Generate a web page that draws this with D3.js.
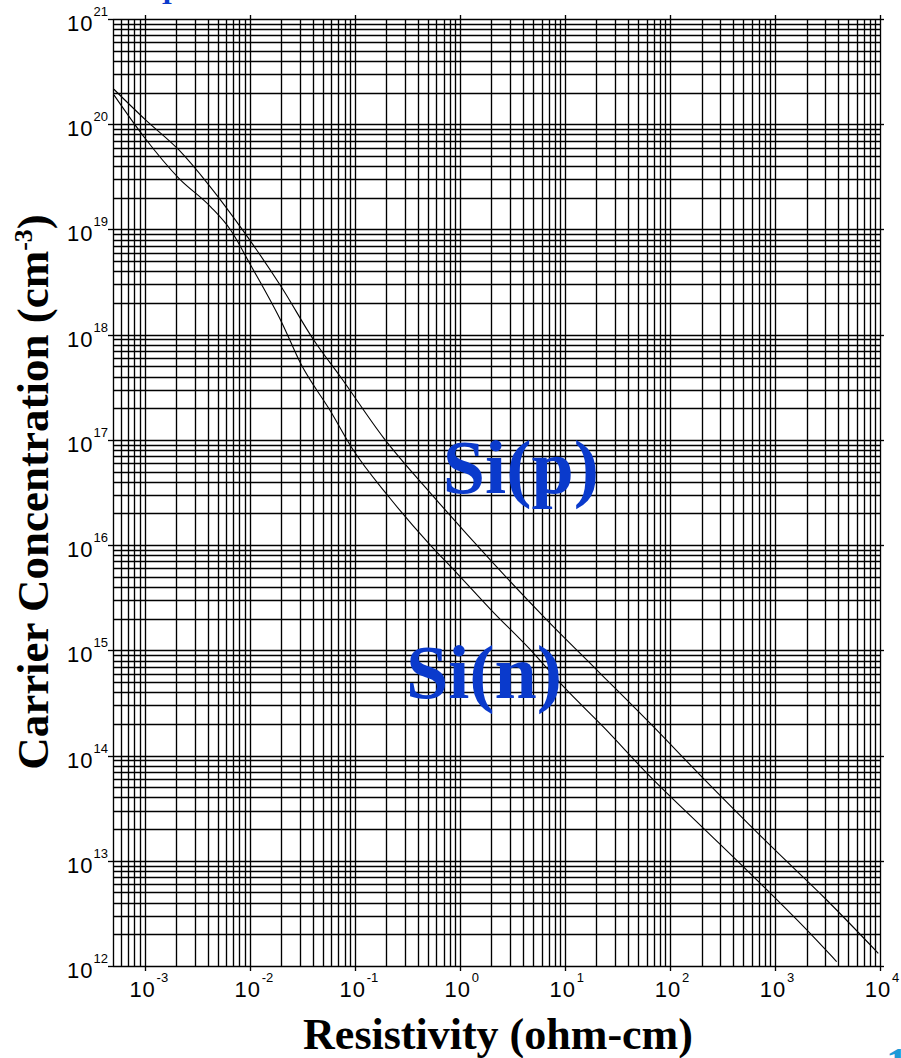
<!DOCTYPE html>
<html>
<head>
<meta charset="utf-8">
<script src="https://cdn.jsdelivr.net/npm/d3@7"></script>
<style>
  body { margin: 0; background: #fff; }
  svg { display: block; }
</style>
</head>
<body>
<svg id="chart" width="901" height="1058"></svg>
<script>
// axis ranges and tick exponents
const xDomain = [5e-4, 1e4]
const yDomain = [1e12, 1e21]
const xExponents = ['-3', '-2', '-1', '0', '1', '2', '3', '4']
const yExponents = ['12', '13', '14', '15', '16', '17', '18', '19', '20', '21']

// Si(p) curve
const siPRes  = [5.1e-4, 1.02e-3, 2.12e-3, 4.09e-3, 8.79e-3, 2.04e-2, 4.07e-2, 7.31e-2, 0.189, 0.565, 1.95, 6.76, 20.2, 65.0, 194, 966, 3110, 9640]
const siPConc = [2.15e20, 1.10e20, 5.69e19, 2.64e19, 9.53e18, 2.76e18, 8.89e17, 3.98e17, 1.04e17, 2.88e16, 7.23e15, 1.94e15, 6.50e14, 2.02e14, 6.53e13, 1.31e13, 4.24e12, 1.32e12]

// Si(n) curve
const siNRes  = [5.1e-4, 9.84e-4, 2.12e-3, 4.25e-3, 6.58e-3, 1.02e-2, 2.04e-2, 3.05e-2, 5.87e-2, 9.44e-2, 0.211, 0.506, 0.942, 1.95, 5.05, 9.73, 23.4, 65.0, 201, 579, 2010, 3870]
const siNConc = [1.90e20, 7.60e19, 3.06e19, 1.64e19, 9.89e18, 4.59e18, 1.28e18, 5.35e17, 1.88e17, 8.32e16, 2.88e16, 1.04e16, 5.40e15, 2.47e15, 9.38e14, 4.51e14, 1.86e14, 6.30e13, 2.11e13, 7.60e12, 2.20e12, 1.10e12]

const curveLabels = ['Si(p)', 'Si(n)']

const WIDTH = 901
const HEIGHT = 1058
const plotL = 113, plotR = 880, plotT = 19, plotB = 966

const svg = d3.select('#chart')

const x = d3.scaleLog().domain(xDomain).range([plotL, plotR])
const y = d3.scaleLog().domain(yDomain).range([plotB, plotT])

const crisp = v => Math.round(v) + 0.5

// grid
const grid = svg.append('g')
  .attr('stroke', '#000')
  .attr('stroke-width', 1.35)

grid.selectAll('line.vx')
  .data(x.ticks())
  .enter()
  .append('line')
  .attr('class', 'vx')
  .attr('x1', d => crisp(x(d)))
  .attr('x2', d => crisp(x(d)))
  .attr('y1', plotT)
  .attr('y2', plotB + 1)

grid.selectAll('line.hy')
  .data(y.ticks())
  .enter()
  .append('line')
  .attr('class', 'hy')
  .attr('y1', d => crisp(y(d)))
  .attr('y2', d => crisp(y(d)))
  .attr('x1', plotL)
  .attr('x2', plotR + 1)

// outward ticks at the decades
const xMajor = xExponents.map(e => Math.pow(10, +e))
const yMajor = yExponents.map(e => Math.pow(10, +e))

grid.selectAll('line.tb')
  .data(xMajor)
  .enter()
  .append('line')
  .attr('class', 'tb')
  .attr('x1', d => crisp(x(d)))
  .attr('x2', d => crisp(x(d)))
  .attr('y1', plotB)
  .attr('y2', plotB + 5)

grid.selectAll('line.tt')
  .data(xMajor)
  .enter()
  .append('line')
  .attr('class', 'tt')
  .attr('x1', d => crisp(x(d)))
  .attr('x2', d => crisp(x(d)))
  .attr('y1', plotT - 4)
  .attr('y2', plotT)

grid.selectAll('line.tl')
  .data(yMajor)
  .enter()
  .append('line')
  .attr('class', 'tl')
  .attr('y1', d => crisp(y(d)))
  .attr('y2', d => crisp(y(d)))
  .attr('x1', plotL - 5)
  .attr('x2', plotL)

grid.selectAll('line.tr')
  .data(yMajor)
  .enter()
  .append('line')
  .attr('class', 'tr')
  .attr('y1', d => crisp(y(d)))
  .attr('y2', d => crisp(y(d)))
  .attr('x1', plotR)
  .attr('x2', plotR + 4)

// tick labels
const tickFont = '"Liberation Sans", Arial, sans-serif'

const yl = svg.append('g')
  .attr('font-family', tickFont)
  .attr('fill', '#000')
  .selectAll('text')
  .data(yExponents)
  .enter()
  .append('text')
  .attr('x', plotL - 5)
  .attr('y', d => y(Math.pow(10, +d)) + 12)
  .attr('text-anchor', 'end')

yl.append('tspan').attr('font-size', 22).attr('letter-spacing', 1).text('10')
yl.append('tspan').attr('font-size', 13).attr('dy', -15).text(d => d)

const xl = svg.append('g')
  .attr('font-family', tickFont)
  .attr('fill', '#000')
  .selectAll('g')
  .data(xExponents)
  .enter()
  .append('g')

xl.append('text')
  .attr('x', d => x(Math.pow(10, +d)) - 2)
  .attr('y', plotB + 31)
  .attr('text-anchor', 'middle')
  .attr('font-size', 22)
  .attr('letter-spacing', 1)
  .text('10')

xl.append('text')
  .attr('x', d => x(Math.pow(10, +d)) + 12)
  .attr('y', plotB + 16)
  .attr('font-size', 13)
  .text(d => d)

// curves
const line = d3.line()
  .x(d => x(d[0]))
  .y(d => y(d[1]))
  .curve(d3.curveMonotoneX)

const curves = [d3.zip(siPRes, siPConc), d3.zip(siNRes, siNConc)]

svg.append('g')
  .selectAll('path')
  .data(curves)
  .enter()
  .append('path')
  .attr('d', line)
  .attr('fill', 'none')
  .attr('stroke', '#000')
  .attr('stroke-width', 1.1)

// Si(p) / Si(n) labels, sat next to their curves
const labelAt = [[0.69, 3.1e16], [0.307, 3.5e14]]
svg.append('g')
  .selectAll('text')
  .data(curveLabels)
  .enter()
  .append('text')
  .attr('x', (d, i) => x(labelAt[i][0]))
  .attr('y', (d, i) => y(labelAt[i][1]))
  .attr('font-family', '"Liberation Serif", "Times New Roman", serif')
  .attr('font-weight', 'bold')
  .attr('font-size', 76)
  .attr('fill', '#0a3acc')
  .text(d => d)

// axis titles
const titleFont = '"Liberation Serif", "Times New Roman", serif'

svg.append('text')
  .attr('x', 498)
  .attr('y', 1049)
  .attr('text-anchor', 'middle')
  .attr('font-family', titleFont)
  .attr('font-weight', 'bold')
  .attr('font-size', 44)
  .text('Resistivity (ohm-cm)')

const yt = svg.append('text')
  .attr('transform', 'translate(48,492) rotate(-90)')
  .attr('text-anchor', 'middle')
  .attr('font-family', titleFont)
  .attr('font-weight', 'bold')
  .attr('font-size', 45)

yt.append('tspan').text('Carrier Concentration (cm')
yt.append('tspan').attr('font-size', 26).attr('dy', -16).text('-3')
yt.append('tspan').attr('dy', 16).text(')')

// clipped bits of neighbouring slide text
svg.append('text')
  .attr('x', 886)
  .attr('y', 1078)
  .attr('font-family', titleFont)
  .attr('font-weight', 'bold')
  .attr('font-size', 44)
  .attr('fill', '#1c9ad8')
  .text('1')

svg.append('text')
  .attr('x', 167)
  .attr('y', 4)
  .attr('text-anchor', 'middle')
  .attr('font-family', titleFont)
  .attr('font-weight', 'bold')
  .attr('font-size', 28)
  .attr('fill', '#0a3acc')
  .text('I')
</script>
</body>
</html>
